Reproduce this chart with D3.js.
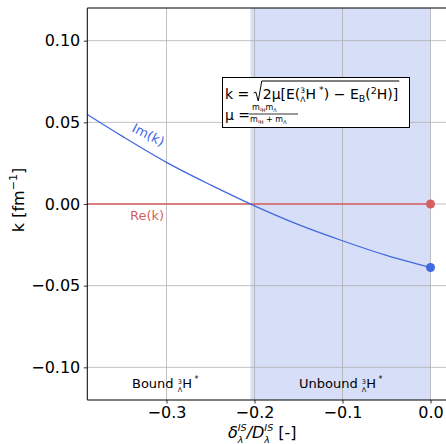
<!DOCTYPE html>
<html>
<head>
<meta charset="utf-8">
<script src="https://cdn.jsdelivr.net/npm/d3@7"></script>
<style>
  html, body { margin: 0; padding: 0; background: #fff; }
  svg { display: block; font-family: "DejaVu Sans", sans-serif; }
  svg text { white-space: pre; }
</style>
</head>
<body>
<svg id="chart" width="446" height="444"></svg>
<script>
// Im(k) as a function of the isospin-breaking ratio delta/D
const ratio = [-0.39, -0.35, -0.30, -0.25, -0.20, -0.15, -0.10, -0.05, 0.00];
const imK   = [0.0548, 0.0414, 0.0255, 0.0117, -0.0011, -0.0126, -0.0225, -0.0315, -0.0389];
// Re(k) stays at zero across the range
const reK   = [0, 0, 0, 0, 0, 0, 0, 0, 0];
// Threshold where the state becomes unbound
const threshold = -0.2045;
const endPoint = { x: 0.0, re: 0.0, im: -0.0389 };

const xTicks = [-0.3, -0.2, -0.1, 0.0];
const yTicks = [-0.10, -0.05, 0.00, 0.05, 0.10];

const blue = "#4169e1";
const red = "#d65f5f";
const shade = "#d7def7";

const svg = d3.select("#chart");
const L = 87.3, T = 8, B = 400;
const x = d3.scaleLinear().domain([-0.39, 0.02]).range([L, L + 0.41 * 880]);
const y = d3.scaleLinear().domain([-0.12, 0.12]).range([B, T]);
const R = x.range()[1];

// unbound region shading
svg.append("rect")
  .attr("x", x(threshold)).attr("y", T)
  .attr("width", x(0) - x(threshold)).attr("height", B - T)
  .attr("fill", shade);

// grid
const grid = svg.append("g").attr("stroke", "#b0b0b0").attr("stroke-width", 0.8);
xTicks.forEach(t => grid.append("line").attr("x1", x(t)).attr("x2", x(t)).attr("y1", T).attr("y2", B));
yTicks.forEach(t => grid.append("line").attr("x1", L).attr("x2", R).attr("y1", y(t)).attr("y2", y(t)));

// curves
const line = d3.line().x((d, i) => x(ratio[i])).curve(d3.curveMonotoneX);
svg.append("path").datum(reK)
  .attr("d", line.y(d => y(d)))
  .attr("fill", "none").attr("stroke", red).attr("stroke-width", 1.3);
svg.append("path").datum(imK)
  .attr("d", line.y(d => y(d)))
  .attr("fill", "none").attr("stroke", blue).attr("stroke-width", 1.3);

svg.append("circle").attr("cx", x(endPoint.x)).attr("cy", y(endPoint.re)).attr("r", 4.5).attr("fill", red);
svg.append("circle").attr("cx", x(endPoint.x)).attr("cy", y(endPoint.im)).attr("r", 4.5).attr("fill", blue);

// axes
const xAxis = d3.axisBottom(x).tickValues(xTicks).tickSize(3.5).tickPadding(3.5)
  .tickFormat(d => d3.format(".1f")(d).replace("-", "\u2212"));
const yAxis = d3.axisLeft(y).tickValues(yTicks).tickSize(3.5).tickPadding(3.5)
  .tickFormat(d => d3.format(".2f")(d).replace("-", "\u2212"));
const gx = svg.append("g").attr("transform", `translate(0,${B})`).call(xAxis);
const gy = svg.append("g").attr("transform", `translate(${L},0)`).call(yAxis);
[gx, gy].forEach(g => {
  g.select(".domain").remove();
  g.selectAll("text").attr("font-size", 16).attr("font-family", "DejaVu Sans").attr("fill", "#000");
  g.selectAll("line").attr("stroke", "#000").attr("stroke-width", 0.8);
});

// spines
svg.append("line").attr("x1", L).attr("x2", L).attr("y1", T).attr("y2", B).attr("stroke", "#000").attr("stroke-width", 1);
svg.append("line").attr("x1", L).attr("x2", R).attr("y1", T).attr("y2", T).attr("stroke", "#000").attr("stroke-width", 1);
svg.append("line").attr("x1", L).attr("x2", R).attr("y1", B).attr("y2", B).attr("stroke", "#000").attr("stroke-width", 1);

// sequential text builder; each part advances the pen
function mathText(parent, x0, y0, parts, fill) {
  let px = x0;
  parts.forEach(p => {
    if (p.gap) { px += p.gap; return; }
    if (p.stack) {
      const a = parent.append("text").attr("x", px).attr("y", y0 + p.stack[0].dy)
        .attr("font-size", p.stack[0].size).attr("fill", fill).text(p.stack[0].t);
      const b = parent.append("text").attr("x", px).attr("y", y0 + p.stack[1].dy)
        .attr("font-size", p.stack[1].size).attr("fill", fill).text(p.stack[1].t);
      if (p.italic) { a.attr("font-style", "italic"); b.attr("font-style", "italic"); }
      px += Math.max(a.node().getComputedTextLength(), b.node().getComputedTextLength());
      return;
    }
    const t = parent.append("text").attr("x", px).attr("y", y0 + (p.dy || 0))
      .attr("font-size", p.size).attr("fill", fill).text(p.t);
    if (p.italic) t.attr("font-style", "italic");
    px += t.node().getComputedTextLength();
  });
  return px;
}

// axis labels
const yl = svg.append("text").attr("transform", "translate(24,200) rotate(-90)")
  .attr("text-anchor", "middle").attr("font-size", 16);
yl.append("tspan").text("k [fm");
yl.append("tspan").attr("font-size", 11).attr("dy", -7).text("\u22121");
yl.append("tspan").attr("dy", 7).text("]");

mathText(svg.append("g"), 228, 438, [
  { t: "\u03B4", size: 16, italic: true },
  { stack: [{ t: "IS", size: 9.5, dy: -7 }, { t: "\u03BB", size: 9.5, dy: 4.5 }], italic: true },
  { t: "/D", size: 16, italic: true },
  { stack: [{ t: "IS", size: 9.5, dy: -7 }, { t: "\u03BB", size: 9.5, dy: 4.5 }], italic: true },
  { t: " [-]", size: 16 }
], "#000");

// curve labels
svg.append("text").attr("transform", "translate(131,131) rotate(27)")
  .attr("font-size", 13).attr("fill", blue).text("Im(k)");
svg.append("text").attr("x", 130).attr("y", 220)
  .attr("font-size", 13).attr("fill", red).text("Re(k)");

// region labels
const hyp = [
  { stack: [{ t: "3", size: 6.5, dy: -3.8 }, { t: "\u039B", size: 6.5, dy: 3.8 }] },
  { t: "H", size: 13 },
  { t: " *", size: 8, dy: -6 }
];
mathText(svg.append("g"), 132, 388, [{ t: "Bound ", size: 13 }].concat(hyp), "#000");
mathText(svg.append("g"), 299, 388, [{ t: "Unbound ", size: 13 }].concat(hyp), "#000");

// formula box
const box = svg.append("g");
box.append("rect").attr("x", 222.5).attr("y", 77.5).attr("width", 187).attr("height", 50)
  .attr("fill", "#fff").attr("stroke", "#000").attr("stroke-width", 1);
const fs = 14, ss = 9.5, st = 7.5;
const f1 = box.append("g");
const afterEq = mathText(f1, 225, 99, [{ t: "k = ", size: fs }], "#000");
const rootStart = afterEq + 9;
const rootEnd = mathText(f1, rootStart, 99, [
  { t: "2\u03BC[E(", size: fs },
  { stack: [{ t: "3", size: st, dy: -6.5 }, { t: "\u039B", size: st, dy: 2.7 }] },
  { t: "H", size: fs },
  { t: " *", size: ss, dy: -6 },
  { t: ") \u2212 E", size: fs },
  { t: "B", size: ss, dy: 3 },
  { t: "(", size: fs },
  { t: "2", size: ss, dy: -5.5 },
  { t: "H)]", size: fs }
], "#000");
box.append("path")
  .attr("d", `M${afterEq},93 L${afterEq + 2},92 L${afterEq + 4.5},101 L${afterEq + 8},81 L${rootEnd + 1},81`)
  .attr("fill", "none").attr("stroke", "#000").attr("stroke-width", 1);

mathText(box.append("g"), 225, 120, [{ t: "\u03BC =", size: fs }], "#000");
mathText(box.append("g"), 252, 110, [
  { t: "m", size: 8 }, { t: "\u00B2H", size: 5, dy: 1.5 }, { t: "m", size: 8 }, { t: "\u039B", size: 5, dy: 1.5 }
], "#000");
mathText(box.append("g"), 250, 122, [
  { t: "m", size: 8 }, { t: "\u00B2H", size: 5, dy: 1.5 }, { t: " + m", size: 8 }, { t: "\u039B", size: 5, dy: 1.5 }
], "#000");
box.append("line").attr("x1", 249).attr("x2", 298).attr("y1", 114).attr("y2", 114)
  .attr("stroke", "#000").attr("stroke-width", 0.8);
</script>
</body>
</html>
